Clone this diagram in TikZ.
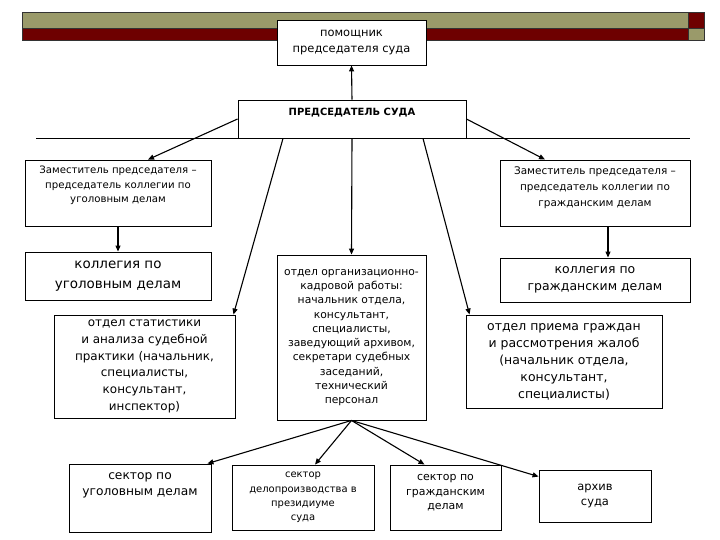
\documentclass[tikz,border=0pt]{standalone}
\usepackage{fontspec}
\setmainfont{DejaVu Sans}
\usetikzlibrary{arrows.meta}
\definecolor{bannerolive}{HTML}{9A9A6A}
\definecolor{bannerred}{HTML}{6E0000}

\begin{document}
\begin{tikzpicture}[x=1bp, y=-1bp,
  unit/.style={draw, fill=white, line width=0.9bp, align=center, inner sep=1bp},
  link/.style={-{Triangle[length=6bp, width=5bp]}, line width=1.1bp},
  bar/.style={draw=black!80, line width=0.7bp},
]
  \useasboundingbox (0,0) rectangle (720,540);

  % slide banner
  \filldraw[bar, fill=bannerolive] (22,12) rectangle (688,28);
  \filldraw[bar, fill=bannerred] (22,28) rectangle (688,40);
  \filldraw[bar, fill=bannerred] (688,12) rectangle (704,28);
  \filldraw[bar, fill=bannerolive] (688,28) rectangle (704,40);

  % top level
  \node[unit, minimum width=149bp, minimum height=45bp,
        font=\fontsize{11.5}{16}\selectfont] (helper) at (351.5,42.5)
    {помощник\\председателя суда};
  \node[unit, minimum width=228bp, minimum height=38bp, text height=15bp, text depth=21bp,
        font=\fontsize{10}{12}\selectfont\bfseries] (chair) at (352,119)
    {ПРЕДСЕДАТЕЛЬ СУДА};
  \coordinate (busL) at (36,138);
  \coordinate (busR) at (690,138);
  \draw[line width=0.9bp] (busL) -- (busR);

  % deputies and boards
  \node[unit, minimum width=186bp, minimum height=66bp,
        font=\fontsize{10.2}{14.5}\selectfont] (depL) at (118,193)
    {Заместитель председателя –\\председатель коллегии по\\уголовным делам\\[3bp]\mbox{}};
  \node[unit, minimum width=190bp, minimum height=66bp,
        font=\fontsize{10.5}{16}\selectfont] (depR) at (595,193)
    {Заместитель председателя –\\председатель коллегии по\\гражданским делам\\[-4bp]\mbox{}};
  \node[unit, minimum width=186bp, minimum height=48bp,
        font=\fontsize{13.5}{20}\selectfont] (kolL) at (118,276)
    {коллегия по\\уголовным делам};
  \node[unit, minimum width=190bp, minimum height=44bp,
        font=\fontsize{12.5}{17}\selectfont] (kolR) at (595,280)
    {коллегия по\\гражданским делам};

  % departments
  \node[unit, minimum width=181bp, minimum height=103bp,
        font=\fontsize{12}{16.8}\selectfont] (stat) at (144.5,366.5)
    {отдел статистики\\и анализа судебной\\практики (начальник,\\специалисты,\\консультант,\\инспектор)};
  \node[unit, minimum width=149bp, minimum height=165bp,
        font=\fontsize{10.8}{14.3}\selectfont] (org) at (351.5,337.5)
    {отдел организационно-\\кадровой работы:\\начальник отдела,\\консультант,\\специалисты,\\заведующий архивом,\\секретари судебных\\заседаний,\\технический\\персонал};
  \node[unit, minimum width=196bp, minimum height=93bp,
        font=\fontsize{12.5}{17}\selectfont] (priem) at (564,361.5)
    {отдел приема граждан\\и рассмотрения жалоб\\(начальник отдела,\\консультант,\\специалисты)};

  % sectors
  \node[unit, minimum width=142bp, minimum height=68bp,
        font=\fontsize{12.3}{16}\selectfont] (sekUg) at (140,498)
    {сектор по\\уголовным делам\\[11bp]\mbox{}};
  \node[unit, minimum width=142bp, minimum height=65bp,
        font=\fontsize{10}{14.5}\selectfont] (sekDel) at (303,497.5)
    {сектор\\делопроизводства в\\президиуме\\суда};
  \node[unit, minimum width=111bp, minimum height=65bp,
        font=\fontsize{11}{14.5}\selectfont] (sekGr) at (445.5,497.5)
    {сектор по\\гражданским\\делам\\[-4bp]\mbox{}};
  \node[unit, minimum width=112bp, minimum height=52bp,
        font=\fontsize{11.5}{15}\selectfont] (arhiv) at (595,496)
    {архив\\суда};

  % links
  \draw[link] (chair.north) -- (helper.south);
  \draw[link] (chair.west) -- ([xshift=30bp]depL.north);
  \draw[link] (chair.east) -- ([xshift=-50bp]depR.north);
  \draw[link] (depL.south) -- (kolL.north);
  \draw[link] ([xshift=13bp]depR.south) -- ([xshift=13bp]kolR.north);
  \draw[link] ([xshift=-69bp]chair.south) -- ([xshift=-2bp]stat.north east);
  \draw[link] (chair.south) -- (org.north);
  \draw[link] ([xshift=71bp]chair.south) -- ([xshift=4bp]priem.north west);

  \draw[link] (org.south) -- ([xshift=-4bp]sekUg.north east);
  \draw[link] (org.south) -- ([xshift=12bp]sekDel.north);
  \draw[link] (org.south) -- ([xshift=-21bp]sekGr.north);
  \draw[link] (org.south) -- ([yshift=-7bp]arhiv.north west);
\end{tikzpicture}
\end{document}
